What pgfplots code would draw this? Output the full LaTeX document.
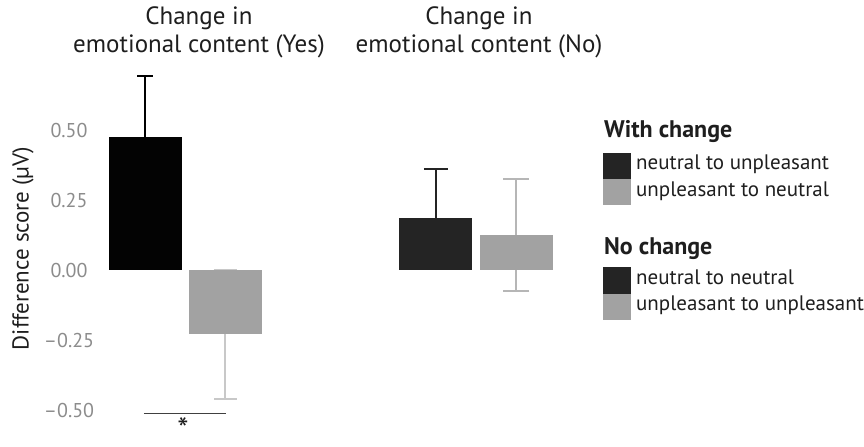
\documentclass[border=0pt]{standalone}
\usepackage{fontspec}
\setmainfont{PT Sans}
\usepackage{pgfplots}
\pgfplotsset{compat=1.18}

\definecolor{barblack}{RGB}{3,3,3}
\definecolor{bardark}{RGB}{36,36,36}
\definecolor{bargray}{RGB}{162,162,162}
\definecolor{errlight}{RGB}{200,200,200}
\definecolor{errmid}{RGB}{182,182,182}
\definecolor{ticktext}{RGB}{140,140,140}
\definecolor{txt}{RGB}{30,30,30}

\newcommand{\hdr}{\fontsize{12bp}{14bp}\selectfont\bfseries}
% legend swatch, fills the whole row (25.5px)
\pgfplotsset{
  swatch/.style={legend image code/.code={\fill[#1] (0bp,-4.4bp) rectangle (13.5bp,8.35bp);}},
  header/.style n args={3}{legend image code/.code={%
    \path[draw=none, fill=none] (0bp,-#2) rectangle (0bp,#3);
    \node[overlay, anchor=base west, inner sep=0pt, font=\hdr, text=txt] at (0,0) {#1};}},
}

\begin{document}
\begin{tikzpicture}
\begin{axis}[
  x=0.5bp, y=140bp,
  xmin=100, xmax=864,
  ymin=-0.5607, ymax=0.95,
  clip=false,
  axis x line=none,
  axis y line*=left,
  y axis line style={draw=none},
  ytick={-0.5,-0.25,0,0.25,0.5},
  yticklabels={–0.50,–0.25,0.00,0.25,0.50},
  ytick style={draw=none},
  yticklabel style={anchor=center, xshift=-15.5bp,
    font=\fontsize{10bp}{11bp}\selectfont, text=ticktext},
  ylabel={Difference score (µV)},
  ylabel style={at={(axis description cs:-0.1008,0.423)}, anchor=center,
    font=\fontsize{11.5bp}{13bp}\selectfont, text=txt},
  legend style={at={(axis description cs:0.6584,0.7291)}, anchor=north west,
    draw=none, fill=none, inner sep=0pt, row sep=0pt, column sep=2.5bp,
    cells={anchor=base west}, nodes={inner sep=0pt, text=txt},
    font=\fontsize{10.5bp}{12bp}\selectfont},
]
% bounding box = whole figure
\path (axis cs:0,-0.5607) rectangle (axis cs:864,0.95);

% error bars first, bars drawn over them
\addplot[draw=none, mark=none, forget plot,
  error bars/.cd, y dir=both, y explicit,
  error bar style={draw=black, line width=1bp},
  error mark options={rotate=90, draw=black, line width=1bp, mark size=4bp}]
  coordinates {(145.5,0.476) +- (0,0.218)};
\addplot[draw=none, mark=none, forget plot,
  error bars/.cd, y dir=both, y explicit,
  error bar style={draw=errlight, line width=1bp},
  error mark options={rotate=90, draw=errlight, line width=1bp, mark size=5.75bp}]
  coordinates {(225.5,-0.229) +- (0,0.229)};
\addplot[draw=none, mark=none, forget plot,
  error bars/.cd, y dir=both, y explicit,
  error bar style={draw=bardark, line width=1bp},
  error mark options={rotate=90, draw=bardark, line width=1bp, mark size=6bp}]
  coordinates {(436,0.186) +- (0,0.177)};
\addplot[draw=none, mark=none, forget plot,
  error bars/.cd, y dir=both, y explicit,
  error bar style={draw=errmid, line width=1bp},
  error mark options={rotate=90, draw=errmid, line width=1bp, mark size=6.5bp}]
  coordinates {(516.5,0.125) +- (0,0.2)};

\addplot[ybar, bar width=73, bar shift=0pt, fill=barblack, draw=none, forget plot]
  coordinates {(145.5,0.476)};
\addplot[ybar, bar width=73, bar shift=0pt, fill=bargray, draw=none, forget plot]
  coordinates {(225.5,-0.229)};
\addplot[ybar, bar width=73, bar shift=0pt, fill=bardark, draw=none, forget plot]
  coordinates {(436,0.186)};
\addplot[ybar, bar width=73, bar shift=0pt, fill=bargray, draw=none, forget plot]
  coordinates {(516.5,0.125)};

% significance bracket
\addplot[draw=black!75, line width=0.6bp, forget plot]
  coordinates {(144,-0.511) (226,-0.511)};
\node[font=\fontsize{16bp}{16bp}\selectfont, text=txt] at (axis cs:183,-0.566) {*};

% facet titles
\node[align=center, text=txt, font=\fontsize{12.5bp}{14bp}\selectfont]
  at (axis cs:199,0.85) {Change in\\emotional content (Yes)};
\node[align=center, text=txt, font=\fontsize{12.5bp}{14bp}\selectfont]
  at (axis cs:479,0.85) {Change in\\emotional content (No)};

% legend
\addlegendimage{header={With change}{7.5bp}{9.2bp}}
\addlegendentry{}
\addlegendimage{swatch=bardark}
\addlegendentry{neutral to unpleasant}
\addlegendimage{swatch=bargray}
\addlegendentry{unpleasant to neutral}
\addlegendimage{header={No change}{6.5bp}{24.5bp}}
\addlegendentry{}
\addlegendimage{swatch=bardark}
\addlegendentry{neutral to neutral}
\addlegendimage{swatch=bargray}
\addlegendentry{unpleasant to unpleasant}
\end{axis}
\end{tikzpicture}
\end{document}
